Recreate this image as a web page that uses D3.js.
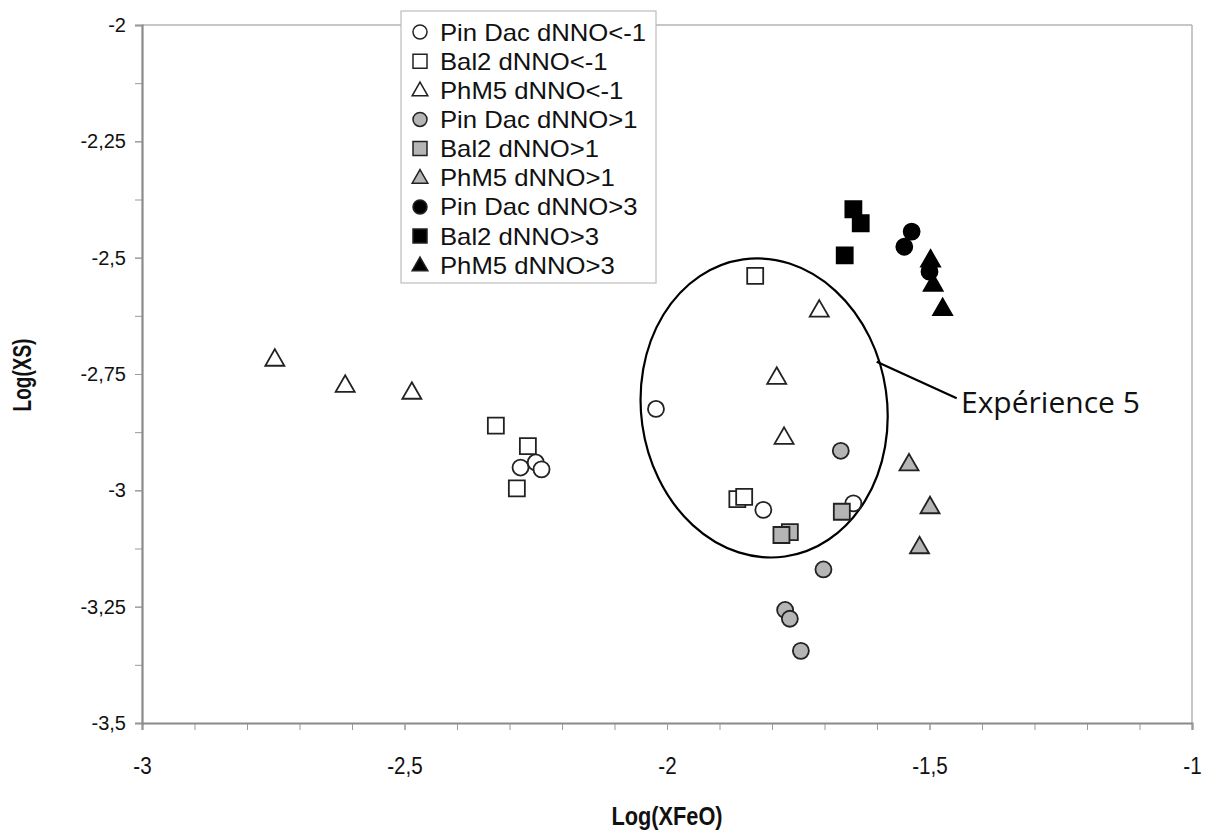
<!DOCTYPE html>
<html><head><meta charset="utf-8">
<script src="https://cdn.jsdelivr.net/npm/d3@7"></script>
<style>
html,body{margin:0;padding:0;background:#fff;}
svg{display:block;}
</style></head>
<body>
<svg id="c" width="1211" height="834"></svg>
<script>
// ---- data ----
const seriesNames = ["Pin Dac dNNO<-1","Bal2 dNNO<-1","PhM5 dNNO<-1","Pin Dac dNNO>1","Bal2 dNNO>1","PhM5 dNNO>1","Pin Dac dNNO>3","Bal2 dNNO>3","PhM5 dNNO>3"];
const pinDacLow = [[-2.279,-2.951],[-2.250,-2.940],[-2.239,-2.955],[-2.021,-2.825],[-1.8165,-3.042],[-1.645,-3.028]];
const bal2Low   = [[-2.326,-2.861],[-2.265,-2.905],[-2.286,-2.996],[-1.832,-2.539],[-1.866,-3.019],[-1.853,-3.014]];
const phm5Low   = [[-2.747,-2.718],[-2.613,-2.774],[-2.486,-2.789],[-1.710,-2.6125],[-1.791,-2.757],[-1.777,-2.886]];
const pinDacMid = [[-1.669,-2.915],[-1.702,-3.170],[-1.775,-3.257],[-1.766,-3.276],[-1.745,-3.345]];
const bal2Mid   = [[-1.667,-3.046],[-1.766,-3.090],[-1.782,-3.096]];
const phm5Mid   = [[-1.539,-2.943],[-1.499,-3.035],[-1.519,-3.121]];
const pinDacHigh= [[-1.534,-2.444],[-1.548,-2.4765],[-1.500,-2.530]];
const bal2High  = [[-1.645,-2.396],[-1.631,-2.426],[-1.6615,-2.495]];
const phm5High  = [[-1.498,-2.505],[-1.493,-2.557],[-1.475,-2.609]];
const xTicks = [-3,-2.5,-2,-1.5,-1];
const yTicks = [-2,-2.25,-2.5,-2.75,-3,-3.25,-3.5];
const annotationText = "Expérience 5";
const ellipseCenter = [-1.815,-2.823];

const seriesData = [pinDacLow,bal2Low,phm5Low,pinDacMid,bal2Mid,phm5Mid,pinDacHigh,bal2High,phm5High];
const shapes = ["circle","square","triangle","circle","square","triangle","circle","square","triangle"];
const fills = ["#ffffff","#ffffff","#ffffff","#b5b5b5","#b5b5b5","#b5b5b5","#000000","#000000","#000000"];

const svg = d3.select("#c");
const x = d3.scaleLinear().domain([-3,-1]).range([142,1192]);
const y = d3.scaleLinear().domain([-3.5,-2]).range([723,25]);
const fmt = d => String(d).replace(".",",");
const FONT = "'Liberation Sans',Arial,sans-serif";

function symPath(shape, s){
  if(shape==="circle") return d3.symbol(d3.symbolCircle, Math.PI*s*s/4)();
  if(shape==="square") return d3.symbol(d3.symbolSquare, s*s)();
  const w=s*1.12, h=w*0.87;
  return `M0,${-h*0.6}L${w/2},${h*0.4}L${-w/2},${h*0.4}Z`;
}

// frame (top/right light)
svg.append("line").attr("x1",142).attr("x2",1192).attr("y1",25).attr("y2",25).attr("stroke","#b4b4b4").attr("stroke-width",1.5);
svg.append("line").attr("x1",1192).attr("x2",1192).attr("y1",25).attr("y2",723).attr("stroke","#b4b4b4").attr("stroke-width",1.5);

// minor ticks
const xMinor = d3.range(-3,-0.99,0.1).map(v=>+v.toFixed(2));
const yMinor = d3.range(-3.5,-1.99,0.125).map(v=>+v.toFixed(3));
const gxm = svg.append("g").attr("transform","translate(0,723)")
  .call(d3.axisBottom(x).tickValues(xMinor).tickSize(7).tickFormat(""));
const gym = svg.append("g").attr("transform","translate(142,0)")
  .call(d3.axisLeft(y).tickValues(yMinor).tickSize(7).tickFormat(""));
[gxm,gym].forEach(g=>{g.select(".domain").remove(); g.selectAll("line").attr("stroke","#999");});

// axes
const gx = svg.append("g").attr("transform","translate(0,723)")
  .call(d3.axisBottom(x).tickValues(xTicks).tickSize(7).tickFormat(fmt));
const gy = svg.append("g").attr("transform","translate(142,0)")
  .call(d3.axisLeft(y).tickValues(yTicks).tickSize(7).tickPadding(9).tickFormat(fmt));
[gx,gy].forEach(g=>{
  g.attr("font-size",null).attr("font-family",null);
  g.select(".domain").attr("stroke","#8a8a8a").attr("stroke-width",2.2);
  g.selectAll(".tick line").attr("stroke","#999");
});
gy.selectAll("text").attr("fill","#111").attr("font-family",FONT).attr("font-size",20);
gx.selectAll(".tick text").attr("fill","#111").attr("font-family",FONT).attr("font-size",24)
  .attr("y",null).attr("dy",null).attr("x",null)
  .attr("transform","translate(0,51) scale(0.86,1)");

// axis titles
svg.append("text").attr("transform","translate(667,825) scale(0.87,1)").attr("text-anchor","middle")
  .attr("font-family",FONT).attr("font-weight","bold").attr("font-size",25).attr("fill","#111").text("Log(XFeO)");
svg.append("text").attr("transform","translate(31,375) rotate(-90) scale(0.76,1)").attr("text-anchor","middle")
  .attr("font-family",FONT).attr("font-weight","bold").attr("font-size",25).attr("fill","#111").text("Log(XS)");

// ellipse annotation
const ecx = x(ellipseCenter[0]), ecy = y(ellipseCenter[1]);
svg.append("ellipse").attr("cx",0).attr("cy",0).attr("rx",123).attr("ry",150)
  .attr("transform",`translate(${ecx},${ecy}) rotate(-8)`)
  .attr("fill","none").attr("stroke","#000").attr("stroke-width",2.2);
svg.append("line").attr("x1",876.7).attr("y1",361.7).attr("x2",956.7).attr("y2",398.3).attr("stroke","#000").attr("stroke-width",2.2);
svg.append("text").attr("x",961).attr("y",413).attr("font-family","'Open Sans',sans-serif").attr("font-size",30).attr("fill","#111").text(annotationText);

// points
seriesData.forEach((data,i)=>{
  const sz = shapes[i]==="triangle"?17:16;
  svg.append("g").selectAll("path").data(data).join("path")
    .attr("d",symPath(shapes[i],sz))
    .attr("transform",d=>`translate(${x(d[0])},${y(d[1])})`)
    .attr("fill",fills[i]).attr("stroke",i>=6?"#000":"#222").attr("stroke-width",1.8);
});

// legend
const lg = svg.append("g");
lg.append("rect").attr("x",401).attr("y",11).attr("width",255).attr("height",272)
  .attr("fill","#fff").attr("stroke","#bdbdbd").attr("stroke-width",1.2);
seriesNames.forEach((name,i)=>{
  const cy = 32 + i*29.15;
  lg.append("path").attr("d",symPath(shapes[i],14)).attr("transform",`translate(420,${cy})`)
    .attr("fill",fills[i]).attr("stroke","#222").attr("stroke-width",1.5);
  lg.append("text").attr("transform",`translate(440,${cy+8.5}) scale(1.07,1)`)
    .attr("font-family",FONT).attr("font-size",24).attr("fill","#111").text(name);
});
</script>
</body></html>
